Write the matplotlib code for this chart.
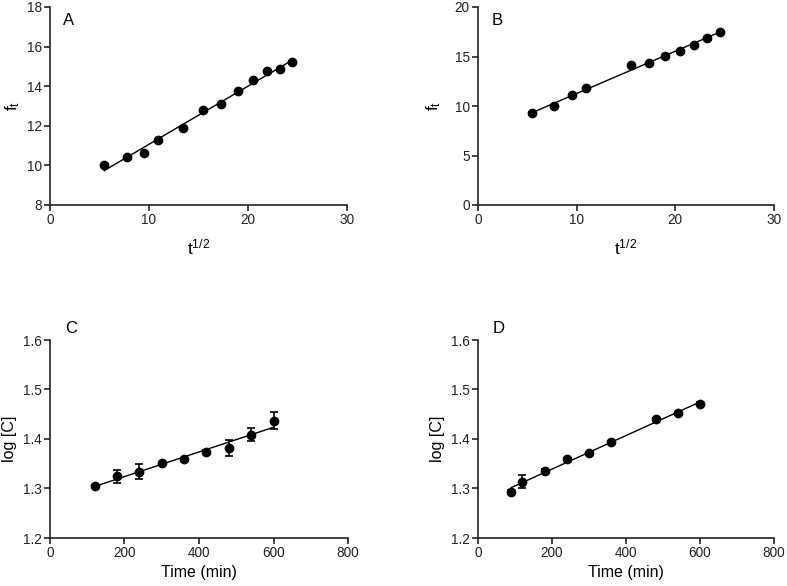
import numpy as np
import matplotlib
matplotlib.use("Agg")
import matplotlib.pyplot as plt

plt.rcParams['font.family'] = ['Liberation Sans', 'DejaVu Sans']
plt.rcParams['mathtext.fontset'] = 'custom'
plt.rcParams['mathtext.rm'] = 'Liberation Sans'

# Panel A
a_x = [5.48, 7.75, 9.49, 10.95, 13.42, 15.49, 17.32, 18.97, 20.49, 21.91, 23.24, 24.49]
a_y = [10.02, 10.41, 10.62, 11.29, 11.91, 12.79, 13.09, 13.78, 14.29, 14.76, 14.85, 15.24]
# Panel B
b_x = [5.48, 7.75, 9.49, 10.95, 15.49, 17.32, 18.97, 20.49, 21.91, 23.24, 24.49]
b_y = [9.27, 9.98, 11.16, 11.80, 14.10, 14.37, 15.04, 15.58, 16.20, 16.90, 17.50]
# Panel C
c_x = [120, 180, 240, 300, 360, 420, 480, 540, 600]
c_y = [1.305, 1.325, 1.334, 1.351, 1.359, 1.374, 1.381, 1.409, 1.437]
c_err = [0.003, 0.013, 0.015, 0.003, 0.003, 0.003, 0.016, 0.013, 0.017]
# Panel D
d_x = [90, 120, 180, 240, 300, 360, 480, 540, 600]
d_y = [1.293, 1.314, 1.336, 1.359, 1.371, 1.393, 1.440, 1.452, 1.471]
d_err = [0.003, 0.013, 0.003, 0.003, 0.003, 0.003, 0.003, 0.003, 0.003]

W, H = 787, 586
fig = plt.figure(figsize=(W/100, H/100), dpi=100)

def add_ax(l, r, t, b):
    return fig.add_axes([l/W, 1 - b/H, (r-l)/W, (b-t)/H])

axA = add_ax(50, 347, 7, 205)
axB = add_ax(478, 774, 7, 205)
axC = add_ax(50, 348, 340, 538)
axD = add_ax(478, 774, 340, 538)

FS = 9.8
LFS = 11.5

def style(ax):
    for s in ['top', 'right']:
        ax.spines[s].set_visible(False)
    for s in ['left', 'bottom']:
        ax.spines[s].set_linewidth(1.2)
        ax.spines[s].set_color('#222222')
    ax.tick_params(direction='out', length=4, width=1.2, labelsize=FS, colors='#222222', pad=2)

def draw(ax, x, y, err=None):
    x = np.array(x); y = np.array(y)
    k, c = np.polyfit(x, y, 1)
    xx = np.array([x.min(), x.max()])
    ax.plot(xx, k*xx + c, color='black', lw=1.0, zorder=2)
    if err is not None:
        ax.errorbar(x, y, yerr=err, fmt='o', color='black', ms=6, capsize=3, elinewidth=1.2, capthick=1.2, zorder=3)
    else:
        ax.plot(x, y, 'o', color='black', ms=6, zorder=3)

draw(axA, a_x, a_y)
axA.set_xlim(0, 30); axA.set_ylim(8, 18)
axA.set_xticks([0, 10, 20, 30]); axA.set_yticks([8, 10, 12, 14, 16, 18])
axA.set_xlabel(r'$\mathregular{t^{1/2}}$', fontsize=12.5, labelpad=7)
axA.set_ylabel(r'$\mathregular{f_t}$', fontsize=12.5, labelpad=3)
axA.text(0.045, 0.93, 'A', transform=axA.transAxes, fontsize=12, va='center')

draw(axB, b_x, b_y)
axB.set_xlim(0, 30); axB.set_ylim(0, 20)
axB.set_xticks([0, 10, 20, 30]); axB.set_yticks([0, 5, 10, 15, 20])
axB.set_xlabel(r'$\mathregular{t^{1/2}}$', fontsize=12.5, labelpad=7)
axB.set_ylabel(r'$\mathregular{f_t}$', fontsize=12.5, labelpad=8)
axB.text(0.045, 0.93, 'B', transform=axB.transAxes, fontsize=12, va='center')

draw(axC, c_x, c_y, c_err)
axC.set_xlim(0, 800); axC.set_ylim(1.2, 1.6)
axC.set_xticks([0, 200, 400, 600, 800]); axC.set_yticks([1.2, 1.3, 1.4, 1.5, 1.6])
axC.set_xlabel('Time (min)', fontsize=LFS, labelpad=3)
axC.set_ylabel('log [C]', fontsize=LFS, labelpad=4)
axC.text(0.05, 1.06, 'C', transform=axC.transAxes, fontsize=12, va='center')

draw(axD, d_x, d_y, d_err)
axD.set_xlim(0, 800); axD.set_ylim(1.2, 1.6)
axD.set_xticks([0, 200, 400, 600, 800]); axD.set_yticks([1.2, 1.3, 1.4, 1.5, 1.6])
axD.set_xlabel('Time (min)', fontsize=LFS, labelpad=3)
axD.set_ylabel('log [C]', fontsize=LFS, labelpad=4)
axD.text(0.05, 1.06, 'D', transform=axD.transAxes, fontsize=12, va='center')

for ax in (axA, axB, axC, axD):
    style(ax)

fig.savefig('out.png', dpi=100)
